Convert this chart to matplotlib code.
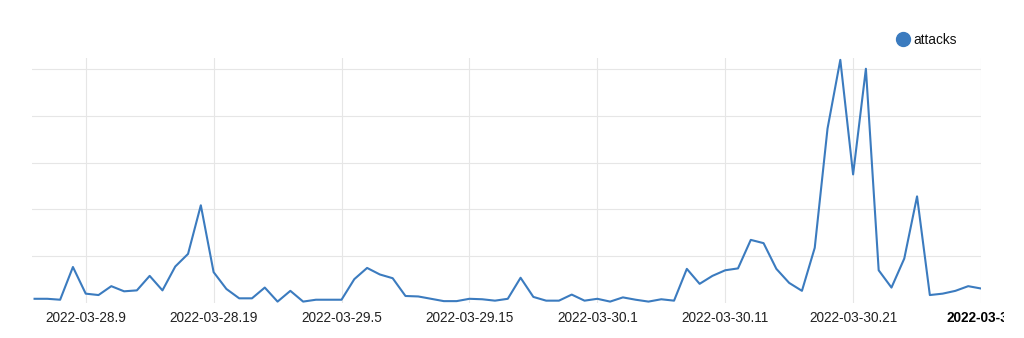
import matplotlib
matplotlib.use("Agg")
import matplotlib.pyplot as plt
import numpy as np
from matplotlib.lines import Line2D
from matplotlib.transforms import Bbox, TransformedBbox

plt.rcParams['font.family'] = ['Liberation Sans', 'DejaVu Sans']

# hourly attacks, from 2022-03-28 05:00 to 2022-03-31 07:00
attacks = [9, 9, 7, 77, 20, 17, 36, 25, 27, 58,
           27, 78, 105, 209, 66, 30, 10, 10, 33, 3,
           26, 3, 7, 7, 7, 51, 75, 61, 53, 15,
           14, 9, 4, 4, 9, 8, 5, 9, 54, 13,
           5, 5, 18, 5, 9, 3, 12, 7, 3, 8,
           5, 73, 41, 58, 70, 74, 135, 128, 73, 43,
           26, 118, 373, 520, 275, 501, 70, 33, 95, 228,
           17, 20, 26, 36, 31]
tick_pos = [4, 14, 24, 34, 44, 54, 64, 74]
tick_labels = ['2022-03-28.9', '2022-03-28.19', '2022-03-29.5', '2022-03-29.15',
               '2022-03-30.1', '2022-03-30.11', '2022-03-30.21', '2022-03-31']

color = '#3b7bbf'
x = np.arange(len(attacks))

fig = plt.figure(figsize=(10.24, 3.38), dpi=100)
ax = fig.add_axes([32 / 1024, 35 / 338, (981 - 32) / 1024, (303 - 58) / 338])

ax.plot(x, attacks, color=color, lw=1.5, zorder=3)

ax.set_xlim(-0.2, len(attacks) - 1)
ax.set_ylim(0, 524)
ax.set_yticks([100, 200, 300, 400, 500])
ax.set_yticklabels([])
ax.set_xticks(tick_pos)
ax.set_xticklabels(tick_labels, fontsize=9.8, color='#222222')
ax.tick_params(length=0, pad=6)
ax.grid(True, color='#e6e6e6', lw=0.8)
ax.set_axisbelow(True)
for s in ax.spines.values():
    s.set_visible(False)

last = ax.get_xticklabels()[-1]
last.set_fontweight('bold')
last.set_color('black')
last.set_clip_box(TransformedBbox(Bbox([[0, 0], [1004 / 1024, 1]]), fig.transFigure))
last.set_clip_on(True)

handle = Line2D([], [], marker='o', linestyle='', color=color, markersize=10)
fig.legend([handle], ['attacks'], loc='center left', bbox_to_anchor=(896 / 1024, 1 - 40 / 338),
           frameon=False, fontsize=9.8, handlelength=1.0, handletextpad=0.25, borderpad=0,
           borderaxespad=0, labelcolor='#111111')

fig.savefig('out.png', dpi=100)
